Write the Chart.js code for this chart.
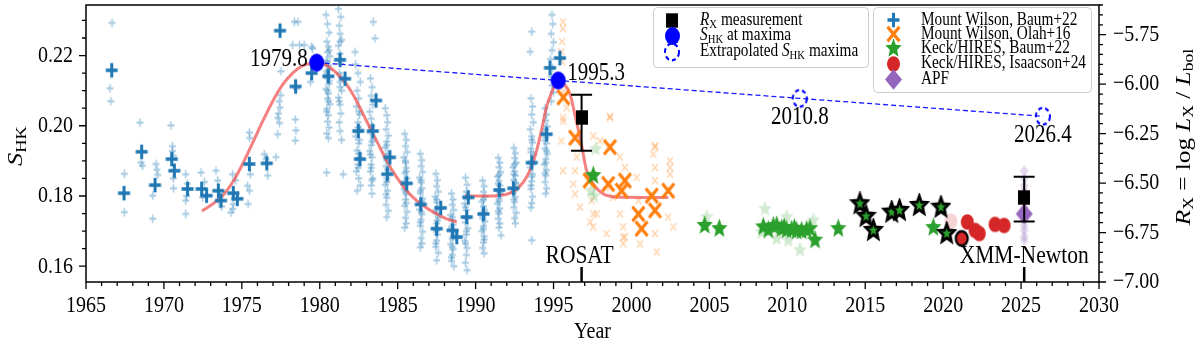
<!DOCTYPE html>
<html>
<head>
<meta charset="utf-8">
<script src="https://cdn.jsdelivr.net/npm/chart.js@4.4.1/dist/chart.umd.min.js"></script>
<style>
  html, body { margin: 0; padding: 0; background: #fff; overflow: hidden; }
  canvas { display: block; }
</style>
</head>
<body>
<canvas id="chart" width="1200" height="343" style="width:1200px;height:343px"></canvas>
<script>
// ---- data ----
const xTicks = [1965, 1970, 1975, 1980, 1985, 1990, 1995, 2000, 2005, 2010, 2015, 2020, 2025, 2030];
const yTicks = [0.16, 0.18, 0.20, 0.22];
const y2Ticks = [-7.00, -6.75, -6.50, -6.25, -6.00, -5.75];

// Mount Wilson, Baum+22: individual (faint) and seasonal (bold)
const mwBaumFaint = [
  [1966.67,0.2293],[1966.54,0.2107],[1966.60,0.2070],[1967.46,0.1863],[1967.46,0.1754],
  [1968.46,0.2009],[1968.53,0.1895],[1968.62,0.1886],[1969.28,0.1801],[1969.28,0.1735],
  [1969.49,0.1891],[1969.60,0.1860],[1969.55,0.1875],[1970.45,0.2001],[1970.55,0.1942],
  [1970.55,0.1928],[1970.60,0.1915],[1970.60,0.1850],[1970.62,0.1822],[1971.40,0.1862],
  [1971.45,0.1800],[1971.40,0.1787],[1971.40,0.1749],[1971.50,0.1835],[1972.38,0.1867],
  [1972.48,0.1796],[1972.60,0.1840],[1973.34,0.1872],[1973.45,0.1844],[1973.50,0.1787],
  [1973.70,0.1770],[1974.41,0.1862],[1974.41,0.1763],[1974.45,0.1777],[1974.30,0.1753],
  [1974.60,0.1845],[1975.37,0.1829],[1975.40,0.1777],[1975.48,0.1815],[1975.48,0.1981],
  [1975.50,0.1965],[1975.55,0.1862],[1976.44,0.1919],[1976.66,0.1858],[1976.55,0.1905],
  [1977.19,0.1911],[1977.30,0.1976],[1977.30,0.2022],[1977.35,0.2035],[1977.40,0.2070],
  [1977.45,0.2052],[1977.50,0.2087],[1977.51,0.2155],[1977.42,0.2008],[1978.37,0.2296],
  [1978.60,0.2296],[1978.26,0.2230],[1978.70,0.2230],[1979.00,0.2230],[1978.43,0.2018],
  [1978.47,0.1987],[1978.43,0.1958],[1978.50,0.2105],[1979.54,0.2220],[1979.40,0.2125],
  [1979.48,0.2225],
  [1980.40,0.2316],[1980.50,0.2290],[1980.60,0.2265],[1980.45,0.2240],[1980.55,0.2225],
  [1980.50,0.2210],[1980.65,0.2198],[1980.40,0.2185],[1980.55,0.2172],[1980.60,0.2160],
  [1980.45,0.2148],[1980.50,0.2135],[1980.60,0.2120],[1980.40,0.2105],[1980.55,0.2092],
  [1980.50,0.2078],[1980.65,0.2062],[1980.45,0.2048],[1980.55,0.2030],[1980.50,0.2012],
  [1980.60,0.1995],[1980.45,0.1978],[1980.55,0.1965],[1980.44,0.1867],
  [1980.60,0.2215],[1980.50,0.2182],[1980.45,0.2155],[1980.60,0.2128],[1980.50,0.2100],
  [1980.55,0.2070],[1980.45,0.2040],
  [1981.20,0.2333],[1981.35,0.2310],[1981.25,0.2285],[1981.30,0.2262],[1981.40,0.2245],
  [1981.20,0.2228],[1981.30,0.2205],[1981.35,0.2178],[1981.25,0.2150],[1981.30,0.2125],
  [1981.40,0.2100],[1981.20,0.2080],[1981.30,0.2060],[1981.35,0.2035],[1981.25,0.2010],
  [1981.30,0.1985],[1981.40,0.1960],[1981.50,0.1862],[1982.26,0.2210],
  [1981.30,0.2240],[1981.25,0.2190],[1981.35,0.2140],[1981.30,0.2110],[1981.25,0.2070],
  [1982.30,0.2175],[1982.45,0.2150],[1982.60,0.2125],[1982.40,0.2100],[1982.50,0.2078],
  [1982.35,0.2055],[1982.55,0.2032],[1982.45,0.2010],[1982.60,0.1990],[1982.30,0.1970],
  [1982.50,0.1950],[1982.40,0.1930],[1982.55,0.1910],[1982.45,0.1890],[1982.35,0.1870],
  [1982.50,0.1850],[1982.60,0.1830],[1982.40,0.1815],
  [1982.50,0.2040],[1982.45,0.1995],[1982.55,0.1960],[1982.50,0.1920],[1982.45,0.1880],
  [1983.43,0.2296],[1983.54,0.2249],[1983.25,0.2135],[1983.35,0.2110],[1983.30,0.2085],
  [1983.40,0.2060],[1983.20,0.2040],[1983.30,0.2020],[1983.35,0.2000],[1983.25,0.1980],
  [1983.40,0.1962],[1983.30,0.1945],[1983.20,0.1928],[1983.35,0.1910],[1983.30,0.1890],
  [1983.25,0.1870],[1983.40,0.1850],[1983.30,0.1830],[1983.35,0.1807],
  [1983.30,0.1995],[1983.35,0.1955],[1983.25,0.1918],[1983.30,0.1880],[1983.35,0.1845],
  [1984.20,0.2050],[1984.30,0.2030],[1984.35,0.2010],[1984.25,0.1990],[1984.40,0.1972],
  [1984.30,0.1955],[1984.20,0.1938],[1984.35,0.1920],[1984.30,0.1902],[1984.25,0.1885],
  [1984.40,0.1868],[1984.30,0.1850],[1984.20,0.1832],[1984.35,0.1815],[1984.30,0.1795],
  [1984.25,0.1775],[1984.40,0.1758],[1984.30,0.1740],
  [1984.30,0.1945],[1984.25,0.1910],[1984.35,0.1875],[1984.30,0.1840],[1984.25,0.1805],
  [1985.45,0.1977],[1985.55,0.1960],[1985.50,0.1942],[1985.60,0.1925],[1985.40,0.1910],
  [1985.50,0.1895],[1985.55,0.1880],[1985.45,0.1865],[1985.60,0.1850],[1985.50,0.1835],
  [1985.40,0.1820],[1985.55,0.1805],[1985.50,0.1790],[1985.45,0.1772],[1985.60,0.1755],
  [1985.50,0.1738],[1985.55,0.1722],[1985.45,0.1710],
  [1985.50,0.1900],[1985.55,0.1870],[1985.45,0.1842],[1985.50,0.1812],[1985.55,0.1780],
  [1986.45,0.1920],[1986.55,0.1902],[1986.50,0.1885],[1986.60,0.1868],[1986.40,0.1852],
  [1986.50,0.1838],[1986.55,0.1822],[1986.45,0.1808],[1986.60,0.1792],[1986.50,0.1778],
  [1986.40,0.1762],[1986.55,0.1748],[1986.50,0.1732],[1986.45,0.1715],[1986.60,0.1698],
  [1986.50,0.1680],[1986.55,0.1665],[1986.45,0.1654],
  [1986.50,0.1845],[1986.45,0.1815],[1986.55,0.1785],[1986.50,0.1755],[1986.45,0.1725],
  [1987.45,0.1863],[1987.55,0.1845],[1987.50,0.1828],[1987.60,0.1812],[1987.40,0.1798],
  [1987.50,0.1782],[1987.55,0.1768],[1987.45,0.1752],[1987.60,0.1738],[1987.50,0.1722],
  [1987.40,0.1706],[1987.55,0.1690],[1987.50,0.1673],[1987.45,0.1655],[1987.60,0.1638],
  [1987.50,0.1617],
  [1987.50,0.1790],[1987.45,0.1760],[1987.55,0.1730],[1987.50,0.1700],[1987.45,0.1665],
  [1988.45,0.1807],[1988.55,0.1790],[1988.50,0.1775],[1988.60,0.1760],[1988.40,0.1746],
  [1988.50,0.1732],[1988.55,0.1718],[1988.45,0.1705],[1988.60,0.1692],[1988.50,0.1678],
  [1988.40,0.1663],[1988.55,0.1648],[1988.50,0.1632],[1988.45,0.1615],[1988.60,0.1600],
  [1988.50,0.1740],[1988.45,0.1712],[1988.55,0.1685],[1988.50,0.1655],[1988.45,0.1625],
  [1989.35,0.1852],[1989.45,0.1832],[1989.40,0.1812],[1989.50,0.1795],[1989.30,0.1778],
  [1989.40,0.1760],[1989.45,0.1742],[1989.35,0.1725],[1989.50,0.1708],[1989.40,0.1690],
  [1989.30,0.1672],[1989.45,0.1652],[1989.40,0.1632],[1989.35,0.1610],[1989.45,0.1589],
  [1989.40,0.1800],[1989.35,0.1768],[1989.45,0.1735],[1989.40,0.1700],[1989.35,0.1665],
  [1990.45,0.1844],[1990.55,0.1828],[1990.50,0.1812],[1990.60,0.1798],[1990.40,0.1784],
  [1990.50,0.1770],[1990.55,0.1756],[1990.45,0.1742],[1990.60,0.1728],[1990.50,0.1714],
  [1990.40,0.1700],[1990.55,0.1685],[1990.50,0.1668],[1990.45,0.1652],[1990.55,0.1637],
  [1990.50,0.1790],[1990.55,0.1762],[1990.45,0.1735],[1990.50,0.1706],[1990.55,0.1676],
  [1991.45,0.1909],[1991.55,0.1895],[1991.50,0.1882],[1991.60,0.1868],[1991.40,0.1855],
  [1991.50,0.1843],[1991.55,0.1830],[1991.45,0.1818],[1991.60,0.1805],[1991.50,0.1792],
  [1991.40,0.1778],[1991.55,0.1764],[1991.50,0.1750],[1991.45,0.1735],[1991.55,0.1722],
  [1991.50,0.1710],[1991.63,0.1688],
  [1991.50,0.1860],[1991.45,0.1835],[1991.55,0.1810],[1991.50,0.1785],[1991.45,0.1757],
  [1992.45,0.1937],[1992.55,0.1922],[1992.50,0.1908],[1992.60,0.1895],[1992.40,0.1882],
  [1992.50,0.1870],[1992.55,0.1858],[1992.45,0.1846],[1992.60,0.1834],[1992.50,0.1822],
  [1992.40,0.1810],[1992.55,0.1797],[1992.50,0.1783],[1992.45,0.1768],[1992.60,0.1752],
  [1992.50,0.1737],[1992.55,0.1722],
  [1992.50,0.1890],[1992.45,0.1862],[1992.55,0.1838],[1992.50,0.1815],[1992.45,0.1790],
  [1993.60,0.2268],[1993.50,0.2211],[1993.55,0.2078],[1993.65,0.2055],[1993.60,0.2032],
  [1993.70,0.2010],[1993.50,0.1990],[1993.60,0.1970],[1993.65,0.1952],[1993.55,0.1935],
  [1993.70,0.1918],[1993.60,0.1900],[1993.50,0.1882],[1993.65,0.1862],[1993.60,0.1842],
  [1993.55,0.1820],[1993.65,0.1798],[1993.60,0.1780],[1993.55,0.1767],[1993.60,0.1674],
  [1993.60,0.1960],[1993.55,0.1925],[1993.65,0.1890],[1993.60,0.1855],[1993.55,0.1830],
  [1994.45,0.2050],[1994.55,0.2032],[1994.50,0.2015],[1994.60,0.1998],[1994.40,0.1982],
  [1994.50,0.1966],[1994.55,0.1950],[1994.45,0.1935],[1994.60,0.1920],[1994.50,0.1905],
  [1994.40,0.1890],[1994.55,0.1874],[1994.50,0.1858],[1994.45,0.1840],[1994.55,0.1822],
  [1994.50,0.1807],
  [1994.50,0.1990],[1994.45,0.1958],[1994.55,0.1928],[1994.50,0.1895],[1994.45,0.1865],
  [1994.90,0.2316],[1994.95,0.2290],[1994.85,0.2262],[1995.00,0.2238],[1994.90,0.2215],
  [1994.80,0.2190],[1994.95,0.2165],[1994.85,0.2140],[1994.90,0.2115],[1995.00,0.2095],
  [1994.85,0.2070]
];
const mwBaumYear = [1966.65, 1967.44, 1968.57, 1969.43, 1970.50, 1970.67, 1971.52, 1972.42, 1972.74,
  1973.49, 1973.66, 1974.45, 1974.71, 1975.48, 1976.60, 1977.45, 1978.45, 1979.48, 1980.55,
  1981.30, 1981.62, 1982.47, 1982.58, 1983.40, 1983.61, 1984.33, 1984.50, 1985.58, 1986.48,
  1987.50, 1987.76, 1988.52, 1988.79, 1989.43, 1989.53, 1990.50, 1991.52, 1992.42, 1993.60,
  1994.56, 1994.77, 1995.41];
const mwBaumS = [0.2158, 0.1808, 0.1926, 0.1831, 0.1905, 0.1872, 0.1820, 0.1820, 0.1801,
  0.1815, 0.1787, 0.1808, 0.1792, 0.1891, 0.1893, 0.2271, 0.2112, 0.2150, 0.2141,
  0.2188, 0.2134, 0.1985, 0.1905, 0.1985, 0.2072, 0.1862, 0.1910, 0.1836, 0.1776,
  0.1707, 0.1766, 0.1702, 0.1683, 0.1740, 0.1796, 0.1749, 0.1817, 0.1822, 0.1895,
  0.1976, 0.2165, 0.2193];

// Mount Wilson, Olah+16
const mwOlahFaint = [
  [1995.60,0.2296],[1995.60,0.2277],[1995.55,0.2240],[1995.50,0.2211],[1995.55,0.2183],
  [1995.60,0.2023],[1995.50,0.1957],[1995.60,0.1872],[1995.63,0.2098],[1995.84,0.2051],
  [1995.63,0.2013],[1996.49,0.1911],[1996.38,0.1872],[1996.27,0.1834],[1996.38,0.1806],
  [1997.45,0.1787],[1997.55,0.1749],[1997.55,0.1712],[1998.62,0.2023],[1997.98,0.1957],
  [1999.26,0.1911],[1998.62,0.1825],[1998.83,0.1796],[1999.26,0.1749],[1999.58,0.1881],
  [1999.47,0.1712],[1999.58,0.1683],[1999.47,0.1664],[2000.44,0.1787],[2000.33,0.1853],
  [2001.51,0.1943],[2001.40,0.1919],[2001.51,0.1881],[2001.51,0.1844],[2001.51,0.1693],
  [2001.62,0.1641],[2002.47,0.1881],[2002.47,0.1862],[2002.36,0.1740],[2002.68,0.1712],
  [2000.55,0.1664],[1998.40,0.1693],[1997.77,0.1749],[1996.70,0.1768],[1997.34,0.1726],
  [1998.62,0.2027],[1997.55,0.1971],[2001.51,0.1939],[2002.47,0.1900],[1999.47,0.1683]
];
const mwOlahYear = [1995.63, 1996.38, 1997.30, 1998.51, 1998.62, 1999.37, 1999.58, 2000.44, 2000.65,
  2001.30, 2001.51, 2002.36];
const mwOlahS = [0.2081, 0.1966, 0.1844, 0.1834, 0.1939, 0.1815, 0.1844, 0.1749, 0.1707,
  0.1801, 0.1759, 0.1815];

// Keck/HIRES, Baum+22 (plain and black-edged)
const keckBaumFaint = [
  [1997.70,0.1934],[1997.40,0.1815],[1997.60,0.1800],[2008.57,0.1763],[2009.96,0.1740],
  [2010.81,0.1646],[2009.32,0.1679],[2010.07,0.1674],[2011.67,0.1731],[2004.83,0.1740],
  [2008.35,0.1697]
];
const keckBaumYear = [1997.55, 2004.70, 2005.64, 2008.46, 2008.78, 2009.10, 2009.32, 2009.64, 2009.80,
  2009.96, 2010.28, 2010.45, 2010.60, 2010.92, 2011.24, 2011.45, 2011.78, 2013.27, 2019.37];
const keckBaumS = [0.1858, 0.1716, 0.1707, 0.1712, 0.1703, 0.1714, 0.1716, 0.1707, 0.1710,
  0.1703, 0.1703, 0.1708, 0.1700, 0.1700, 0.1703, 0.1707, 0.1674, 0.1707, 0.1710];
const keckBaumEdgeYear = [2014.66, 2015.05, 2015.52, 2016.70, 2017.20, 2018.47, 2019.86, 2020.23];
const keckBaumEdgeS = [0.1778, 0.1742, 0.1702, 0.1754, 0.1759, 0.1773, 0.1768, 0.1693];

// Keck/HIRES, Isaacson+24
const keckIsaFaint = [[2020.50, 0.1728]];
const keckIsaYear = [2021.55, 2022.05, 2022.32, 2023.33, 2023.91];
const keckIsaS = [0.1726, 0.1702, 0.1693, 0.1719, 0.1716];
const keckIsaEdgeYear = [2021.19];
const keckIsaEdgeS = [0.1679];

// APF
const apfFaintS = [0.1872, 0.1850, 0.1830, 0.1815, 0.1795, 0.1768, 0.1745, 0.1730, 0.1715, 0.1702, 0.1685, 0.1674];
const apfYear = [2025.20];
const apfS = [0.1749];

// sinusoidal cycle fits
const fit1Year = [1972.44, 1973.13, 1973.77, 1974.41, 1975.05, 1975.70, 1976.34, 1976.98, 1977.62, 1978.26,
  1978.90, 1979.44, 1979.80, 1980.44, 1981.08, 1981.73, 1982.37, 1983.01, 1983.65, 1984.30,
  1984.94, 1985.58, 1986.22, 1986.86, 1987.50, 1988.14, 1988.79];
const fit1S = [0.1757, 0.1777, 0.1801, 0.1839, 0.1891, 0.1952, 0.2013, 0.2070, 0.2117, 0.2150,
  0.2171, 0.2178, 0.2180, 0.2172, 0.2150, 0.2117, 0.2070, 0.2013, 0.1957, 0.1900,
  0.1853, 0.1815, 0.1787, 0.1766, 0.1749, 0.1735, 0.1726];
const fit2Year = [1989.32, 1990.28, 1991.35, 1992.20, 1992.85, 1993.28, 1993.60, 1993.92, 1994.24, 1994.56,
  1994.88, 1995.20, 1995.30, 1995.63, 1996.06, 1996.38, 1996.80, 1997.12, 1997.55, 1998.19,
  1999.05, 2000.76, 2002.36];
const fit2S = [0.1800, 0.1800, 0.1801, 0.1808, 0.1828, 0.1855, 0.1885, 0.1930, 0.1990, 0.2055,
  0.2095, 0.2127, 0.2129, 0.2122, 0.2090, 0.2030, 0.1945, 0.1872, 0.1834, 0.1806,
  0.1797, 0.1796, 0.1796];

// S_HK maxima and extrapolated maxima
const maxYear = [1979.8, 1995.3];
const maxS = [0.2180, 0.2129];
const extYear = [2010.8, 2026.4];
const extS = [0.2078, 0.2027];

// R_X measurements (right axis)
const rxName = ['ROSAT', 'XMM-Newton'];
const rxYear = [1996.8, 2025.2];
const rxVal = [-6.17, -6.572];
const rxLo = [-6.337, -6.694];
const rxHi = [-6.053, -6.468];

// ---- drawing helpers ----
const SERIF = '"Liberation Serif", "Times New Roman", serif';
const SY = 1.2;
const C_BLUE = '#1f77b4', C_ORANGE = '#ff7f0e', C_GREEN = '#2ca02c', C_RED = '#d62728', C_PURPLE = '#9467bd';

function mk(w, h, draw) {
  const c = document.createElement('canvas');
  c.width = w; c.height = h;
  const g = c.getContext('2d');
  g.translate(w / 2, h / 2);
  g.scale(1, SY);
  draw(g);
  return c;
}
function dims(r, lw) {
  const w = Math.ceil(2 * r + lw + 2);
  return [w, Math.ceil((2 * r + lw) * SY + 2)];
}
function plusM(r, lw, col) {
  const [w, h] = dims(r, lw);
  return mk(w, h, g => {
    g.strokeStyle = col; g.lineWidth = lw;
    g.beginPath(); g.moveTo(-r, 0); g.lineTo(r, 0); g.moveTo(0, -r); g.lineTo(0, r); g.stroke();
  });
}
function xM(r, lw, col) {
  const [w, h] = dims(r, lw);
  return mk(w, h, g => {
    g.strokeStyle = col; g.lineWidth = lw;
    g.beginPath(); g.moveTo(-r, -r); g.lineTo(r, r); g.moveTo(-r, r); g.lineTo(r, -r); g.stroke();
  });
}
function starM(ro, ri, fill, edge, lw) {
  const [w, h] = dims(ro, lw || 0);
  return mk(w, h, g => {
    g.beginPath();
    for (let k = 0; k < 10; k++) {
      const a = -Math.PI / 2 + k * Math.PI / 5;
      const r = k % 2 ? ri : ro;
      g.lineTo(r * Math.cos(a), r * Math.sin(a));
    }
    g.closePath();
    g.fillStyle = fill; g.fill();
    if (edge) { g.strokeStyle = edge; g.lineWidth = lw; g.lineJoin = 'miter'; g.stroke(); }
  });
}
function circM(r, fill, edge, lw, dash) {
  const [w, h] = dims(r, lw || 0);
  return mk(w, h, g => {
    g.beginPath(); g.arc(0, 0, r, 0, Math.PI * 2);
    if (fill) { g.fillStyle = fill; g.fill(); }
    if (edge) { g.strokeStyle = edge; g.lineWidth = lw; if (dash) g.setLineDash(dash); g.stroke(); }
  });
}
function diamondM(r, fill) {
  const [w, h] = dims(r, 0);
  return mk(w, h, g => {
    g.beginPath(); g.moveTo(0, -r); g.lineTo(r, 0); g.lineTo(0, r); g.lineTo(-r, 0); g.closePath();
    g.fillStyle = fill; g.fill();
  });
}
function squareM(s, fill) {
  const [w, h] = dims(s / 2, 0);
  return mk(w, h, g => { g.fillStyle = fill; g.fillRect(-s / 2, -s / 2, s, s); });
}

const M = {
  plusFaint: plusM(3.5, 1.5, 'rgba(31,119,180,0.4)'),
  plus: plusM(6, 3, C_BLUE),
  xFaint: xM(3, 1.5, 'rgba(255,127,14,0.3)'),
  x: xM(6, 3, C_ORANGE),
  starFaint: starM(7, 3.2, 'rgba(44,160,44,0.22)'),
  star: starM(8.5, 3.8, C_GREEN),
  starEdge: starM(8, 3.6, C_GREEN, '#000', 2.6),
  redFaint: circM(6.5, 'rgba(214,39,40,0.2)'),
  red: circM(6.5, C_RED),
  redEdge: circM(6, C_RED, '#000', 2.2),
  apfFaint: diamondM(4.5, 'rgba(148,103,189,0.25)'),
  apf: diamondM(8.5, C_PURPLE),
  maxC: circM(7.5, '#0000ff'),
  extC: circM(7, null, '#0000ff', 2, [4, 3]),
  sq: squareM(12, '#000')
};

function drawRich(ctx, segs, x, y, size, align, rot) {
  ctx.save();
  ctx.translate(x, y);
  ctx.scale(1, SY);
  if (rot) ctx.rotate(rot);
  let w = 0;
  const parts = segs.map(s => {
    const sz = s.sub ? size * 0.7 : size;
    const font = (s.it ? 'italic ' : '') + sz + 'px ' + SERIF;
    ctx.font = font;
    const pw = ctx.measureText(s.t).width;
    w += pw;
    return { s, font, pw };
  });
  let cx = align === 'center' ? -w / 2 : align === 'right' ? -w : 0;
  ctx.textBaseline = 'middle'; ctx.textAlign = 'left'; ctx.fillStyle = '#000';
  for (const p of parts) {
    ctx.font = p.font;
    ctx.fillText(p.s.t, cx, p.s.sub ? size * 0.25 : 0);
    cx += p.pw;
  }
  ctx.restore();
}
const txt = (ctx, s, x, y, size, align) => drawRich(ctx, [{ t: s }], x, y, size, align);
function img(ctx, m, x, y) { ctx.drawImage(m, Math.round(x - m.width / 2), Math.round(y - m.height / 2)); }

const pairs = arr => arr.map(p => ({ x: p[0], y: p[1] }));
const pts = (xs, ys) => xs.map((x, i) => ({ x, y: ys[i] }));

// ---- decoration plugin: frame, ticks, labels, error bars, annotations, legends ----
const deco = {
  id: 'deco',
  afterDatasetsDraw(chart) {
    const ctx = chart.ctx, xs = chart.scales.x, y2 = chart.scales.y2;
    ctx.save();
    ctx.strokeStyle = '#000'; ctx.lineWidth = 2;
    rxYear.forEach((yr, i) => {
      const px = xs.getPixelForValue(yr);
      const a = y2.getPixelForValue(rxLo[i]), b = y2.getPixelForValue(rxHi[i]);
      ctx.beginPath();
      ctx.moveTo(px, a); ctx.lineTo(px, b);
      ctx.moveTo(px - 10.5, a); ctx.lineTo(px + 10.5, a);
      ctx.moveTo(px - 10.5, b); ctx.lineTo(px + 10.5, b);
      ctx.stroke();
      img(ctx, M.sq, px, y2.getPixelForValue(rxVal[i]));
    });
    ctx.restore();
  },
  afterDraw(chart) {
    const ctx = chart.ctx, a = chart.chartArea;
    const xs = chart.scales.x, ys = chart.scales.y, y2 = chart.scales.y2;
    ctx.save();
    // frame
    ctx.strokeStyle = '#000'; ctx.lineWidth = 1.5;
    ctx.strokeRect(a.left, a.top, a.right - a.left, a.bottom - a.top);
    // ticks
    ctx.lineWidth = 1.3;
    ctx.beginPath();
    for (let yr = 1965; yr <= 2030; yr++) {
      const px = xs.getPixelForValue(yr);
      const len = yr % 5 === 0 ? 7 : 4;
      ctx.moveTo(px, a.bottom); ctx.lineTo(px, a.bottom + len);
    }
    for (let k = 32; k <= 46; k++) {
      const v = k * 0.005;
      const py = ys.getPixelForValue(v);
      if (py < a.top || py > a.bottom) continue;
      const len = k % 4 === 0 ? 7 : 4;
      ctx.moveTo(a.left, py); ctx.lineTo(a.left - len, py);
    }
    for (let k = -140; k <= -112; k++) {
      const v = k * 0.05;
      const py = y2.getPixelForValue(v);
      if (py < a.top - 0.5 || py > a.bottom + 0.5) continue;
      const len = k % 5 === 0 ? 7 : 4;
      ctx.moveTo(a.right, py); ctx.lineTo(a.right + len, py);
    }
    ctx.stroke();
    // tick labels
    xs.ticks.forEach(t => txt(ctx, String(t.value), xs.getPixelForValue(t.value), 306, 20, 'center'));
    ys.ticks.forEach(t => txt(ctx, t.value.toFixed(2), a.left - 13, ys.getPixelForValue(t.value), 20, 'right'));
    y2.ticks.forEach(t => {
      const v = t.value;
      txt(ctx, (v < 0 ? '\u2212' : '') + Math.abs(v).toFixed(2), a.right + 14, y2.getPixelForValue(v), 20, 'left');
    });
    // axis titles
    txt(ctx, 'Year', (a.left + a.right) / 2, 332, 20, 'center');
    drawRich(ctx, [{ t: 'S', it: 1 }, { t: 'HK', sub: 1 }], 16, 146, 22, 'center', -Math.PI / 2);
    drawRich(ctx, [{ t: 'R', it: 1 }, { t: 'X', sub: 1 }, { t: ' = log ' }, { t: 'L', it: 1 }, { t: 'X', sub: 1 },
      { t: ' / ' }, { t: 'L', it: 1 }, { t: 'bol', sub: 1 }], 1184, 137, 21, 'center', -Math.PI / 2);
    // maxima labels
    txt(ctx, maxYear[0].toFixed(1), xs.getPixelForValue(maxYear[0]) - 9, ys.getPixelForValue(maxS[0]) - 3, 21, 'right');
    txt(ctx, maxYear[1].toFixed(1), xs.getPixelForValue(maxYear[1]) + 9, ys.getPixelForValue(maxS[1]) - 7, 21, 'left');
    extYear.forEach((yr, i) => txt(ctx, yr.toFixed(1), xs.getPixelForValue(yr), ys.getPixelForValue(extS[i]) + 19, 21, 'center'));
    // X-ray mission markers
    ctx.lineWidth = 2.5;
    rxYear.forEach((yr, i) => {
      const px = xs.getPixelForValue(yr);
      ctx.beginPath(); ctx.moveTo(px, a.bottom - 15); ctx.lineTo(px, a.bottom); ctx.stroke();
      txt(ctx, rxName[i], px - (i === 0 ? 2 : 0), a.bottom - 26, 21.5, 'center');
    });
    // legends
    const box = (x, y, w, h) => {
      ctx.beginPath();
      if (ctx.roundRect) ctx.roundRect(x, y, w, h, 4); else ctx.rect(x, y, w, h);
      ctx.fillStyle = 'rgba(255,255,255,0.85)'; ctx.fill();
      ctx.strokeStyle = '#cccccc'; ctx.lineWidth = 1; ctx.stroke();
    };
    box(653.5, 7.5, 215, 60);
    const leg1 = [
      [M.sq, [{ t: 'R', it: 1 }, { t: 'X', sub: 1 }, { t: ' measurement' }], 20],
      [M.maxC, [{ t: 'S', it: 1 }, { t: 'HK', sub: 1 }, { t: ' at maxima' }], 35.5],
      [M.extC, [{ t: 'Extrapolated ' }, { t: 'S', it: 1 }, { t: 'HK', sub: 1 }, { t: ' maxima' }], 51.5]
    ];
    leg1.forEach(e => { img(ctx, e[0], 672, e[2]); drawRich(ctx, e[1], 700, e[2], 15.3, 'left'); });
    box(873.5, 7.5, 218, 85);
    const leg2 = [
      [M.plus, 'Mount Wilson, Baum+22', 20],
      [M.x, 'Mount Wilson, Olah+16', 34],
      [M.star, 'Keck/HIRES, Baum+22', 48.5],
      [M.red, 'Keck/HIRES, Isaacson+24', 63.5],
      [M.apf, 'APF', 79]
    ];
    leg2.forEach(e => { img(ctx, e[0], 893, e[2]); txt(ctx, e[1], 921, e[2], 15.3, 'left'); });
    ctx.restore();
  }
};

// ---- chart ----
const scatter = (data, style, order, extra) => Object.assign({
  type: 'scatter', data, pointStyle: style, pointRadius: 4, pointHoverRadius: 4, order
}, extra || {});

new Chart(document.getElementById('chart'), {
  type: 'scatter',
  data: {
    datasets: [
      scatter(pairs(mwBaumFaint), M.plusFaint, 30),
      scatter(pairs(mwOlahFaint), M.xFaint, 29),
      scatter(pairs(keckBaumFaint), M.starFaint, 28),
      scatter(pairs(keckIsaFaint), M.redFaint, 27),
      scatter(apfFaintS.map(s => ({ x: apfYear[0], y: s })), M.apfFaint, 26),
      scatter(pts(fit1Year, fit1S), 'circle', 20, { showLine: true, pointRadius: 0, borderColor: 'rgba(240,60,60,0.65)', borderWidth: 3, cubicInterpolationMode: 'monotone' }),
      scatter(pts(fit2Year, fit2S), 'circle', 20, { showLine: true, pointRadius: 0, borderColor: 'rgba(240,60,60,0.65)', borderWidth: 3, cubicInterpolationMode: 'monotone' }),
      scatter(pts(maxYear.concat(extYear), maxS.concat(extS)), 'circle', 19, { showLine: true, pointRadius: 0, borderColor: '#1a1aff', borderWidth: 1.3, borderDash: [5, 3] }),
      scatter(pts(mwBaumYear, mwBaumS), M.plus, 10),
      scatter(pts(mwOlahYear, mwOlahS), M.x, 9),
      scatter(pts(keckBaumYear, keckBaumS), M.star, 8),
      scatter(pts(keckBaumEdgeYear, keckBaumEdgeS), M.starEdge, 7),
      scatter(pts(keckIsaYear, keckIsaS), M.red, 6),
      scatter(pts(keckIsaEdgeYear, keckIsaEdgeS), M.redEdge, 6),
      scatter(pts(apfYear, apfS), M.apf, 5),
      scatter(pts(maxYear, maxS), M.maxC, 3),
      scatter(pts(extYear, extS), M.extC, 2)
    ]
  },
  options: {
    responsive: false,
    devicePixelRatio: 1,
    animation: false,
    events: [],
    layout: { padding: { top: 3, left: 0, right: 0, bottom: 0 } },
    plugins: { legend: { display: false }, tooltip: { enabled: false } },
    scales: {
      x: {
        type: 'linear', position: 'bottom', min: 1965, max: 2030,
        afterBuildTicks: s => { s.ticks = xTicks.map(v => ({ value: v })); },
        afterFit: s => { s.height = 61; },
        grid: { display: false }, border: { display: false }, ticks: { display: false }
      },
      y: {
        type: 'linear', position: 'left', min: 0.1555, max: 0.2344,
        afterBuildTicks: s => { s.ticks = yTicks.map(v => ({ value: v })); },
        afterFit: s => { s.width = 86; },
        grid: { display: false }, border: { display: false }, ticks: { display: false }
      },
      y2: {
        type: 'linear', position: 'right', min: -7.0, max: -5.6,
        afterBuildTicks: s => { s.ticks = y2Ticks.map(v => ({ value: v })); },
        afterFit: s => { s.width = 101; },
        grid: { display: false }, border: { display: false }, ticks: { display: false }
      }
    }
  },
  plugins: [deco]
});
</script>
</body>
</html>
